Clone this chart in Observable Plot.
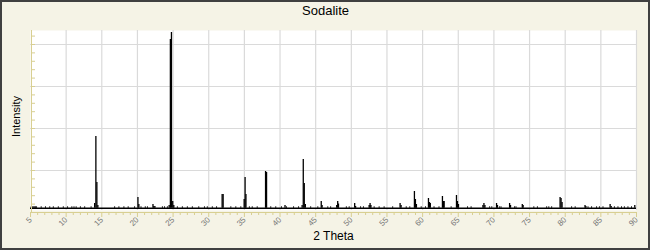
<!DOCTYPE html>
<html><head><meta charset="utf-8">
<script src="https://cdn.jsdelivr.net/npm/d3@7"></script>
<script src="https://cdn.jsdelivr.net/npm/@observablehq/plot@0.6"></script>
<style>
html,body{margin:0;padding:0;background:#f5f3e6;}
#chart{position:relative;width:650px;height:250px;overflow:hidden;}
#chart svg{display:block;}
#border{position:absolute;left:0;top:0;width:650px;height:250px;box-sizing:border-box;border:2px solid #404040;pointer-events:none;}
</style></head><body><div id="chart"><div id="border"></div></div>
<script>
const title = "Sodalite";
const xLabel = "2 Theta";
const yLabel = "Intensity";
const xMajorTicks = [5,10,15,20,25,30,35,40,45,50,55,60,65,70,75,80,85,90];
const xMinorTicks = d3.range(5, 90.5, 1).filter(v => v % 5 !== 0);
const yGridTicks = [1000,2000,3000,4000];
const yMinorTicks = d3.range(0, 4334, 200);
const baseline = 100;

const peakTheta = [14.0,14.17,14.31,14.45,20.07,20.2,22.18,22.3,22.45,24.45,24.62,24.77,24.95,25.1,
  31.88,32.02,34.97,35.1,35.22,37.97,38.11,40.7,43.1,43.26,43.4,43.55,45.78,45.9,
  47.95,48.09,48.2,50.47,50.6,52.5,52.63,52.75,56.84,56.98,58.85,58.99,59.13,
  60.82,60.96,61.08,62.78,62.92,63.02,64.75,64.89,65.03,68.46,68.6,68.74,70.37,70.5,
  72.2,72.33,73.98,74.1,79.28,79.42,79.56,82.78,82.9,86.3,86.45,89.76];
const peakCounts = [214,1810,714,167,357,190,190,143,143,167,4119,4286,262,167,
  429,429,310,833,429,976,952,167,167,1262,690,190,262,167,
  167,262,202,214,143,167,214,167,214,167,500,310,190,
  333,238,214,381,262,262,405,262,190,167,214,167,214,167,
  214,167,190,167,357,333,238,167,143,190,143,167];

const noiseTheta = [5.1,5.25,5.4,5.55,5.7,5.85,6.5,7.1,7.7,8.2,8.9,9.6,10.2,10.8,11.1,11.4,12.0,12.6,13.5,
  16.8,17.4,18.1,18.7,19.6,20.5,21.1,21.4,23.5,23.8,24.2,
  25.6,26.3,27.0,27.7,28.6,29.4,29.8,30.5,31.1,33.1,33.8,34.5,35.7,36.1,36.8,38.7,39.4,40.2,40.9,41.9,42.6,44.3,45.3,
  46.7,47.1,49.3,49.7,51.3,51.7,53.2,53.9,54.6,55.8,57.7,58.2,59.8,60.4,61.6,62.3,64.0,66.3,66.8,
  69.4,69.7,70.8,71.0,72.9,73.1,75.6,76.1,77.4,77.7,78.1,80.9,81.4,83.2,83.7,84.4,84.8,85.3,86.9,87.4,87.9,88.3,88.8,89.3];
const noiseCounts = noiseTheta.map(() => 135);

const peaks = peakTheta.map((t, i) => ({t, c: peakCounts[i]}));
const noise = noiseTheta.map((t, i) => ({t, c: noiseCounts[i]}));

const axisColor = "#d8cf92";
const gridColor = "#dadada";

const chart = Plot.plot({
  width: 650, height: 250,
  marginLeft: 30, marginRight: 14, marginTop: 30, marginBottom: 38,
  style: {background: "transparent", fontFamily: "'Liberation Sans', Arial, sans-serif", overflow: "visible"},
  x: {domain: [5, 90], axis: null},
  y: {domain: [0, 4333], axis: null},
  marks: [
    Plot.frame({fill: "white", stroke: null, insetBottom: 2}),
    Plot.gridX(xMajorTicks.slice(1), {stroke: gridColor, strokeOpacity: 1, strokeWidth: 1.2, insetBottom: 2}),
    Plot.gridY(yGridTicks, {stroke: gridColor, strokeOpacity: 1, strokeWidth: 1.2}),
    Plot.ruleY([baseline], {stroke: "black", strokeWidth: 1.6}),
    Plot.ruleX(noise, {x: "t", y1: () => baseline, y2: "c", stroke: "black", strokeWidth: 1}),
    Plot.ruleX(peaks, {x: "t", y1: () => baseline, y2: "c", stroke: "black", strokeWidth: 1.3}),
    Plot.ruleY([0], {stroke: axisColor, strokeWidth: 1}),
    Plot.ruleX([5], {stroke: axisColor, strokeWidth: 1, dx: 1}),
    Plot.tickY(yMinorTicks, {y: d => d, stroke: axisColor, insetRight: 602, dx: 1}),
    Plot.axisX(xMinorTicks, {tickSize: 3, tickFormat: () => "", stroke: axisColor, label: null}),
    Plot.axisX(xMajorTicks, {tickSize: 5, tickRotate: -45, stroke: axisColor, fill: "#777777", fontSize: 8, label: null, tickPadding: 1}),
    Plot.text([xLabel], {frameAnchor: "bottom", lineAnchor: "middle", dy: 24, fontSize: 12, fill: "black"}),
    Plot.text([yLabel], {frameAnchor: "left", textAnchor: "middle", lineAnchor: "middle", dx: -14, dy: -5, rotate: -90, fontSize: 11, fill: "black"}),
    Plot.text([title], {frameAnchor: "top", lineAnchor: "middle", dy: -20, dx: -8, fontSize: 13, fill: "black"})
  ]
});
document.getElementById("chart").prepend(chart);
</script></body></html>
